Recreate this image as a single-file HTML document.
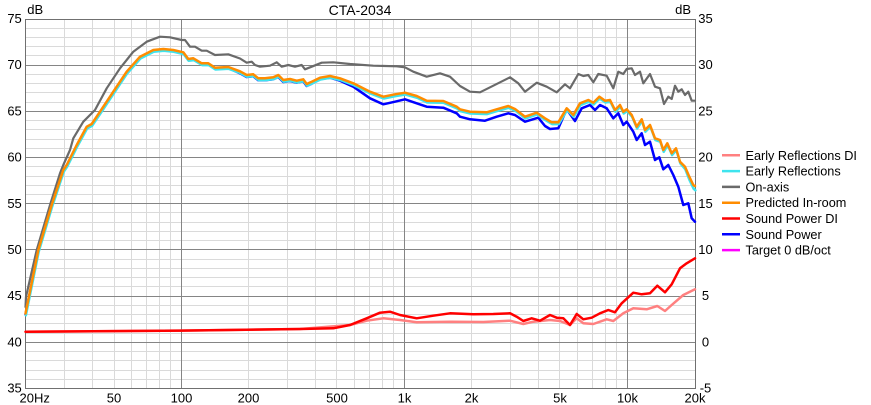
<!DOCTYPE html>
<html><head><meta charset="utf-8"><style>
html,body{margin:0;padding:0;background:#fff;}
svg{display:block;font-family:"Liberation Sans",Arial,sans-serif;}
</style></head><body>
<svg width="871" height="405" viewBox="0 0 871 405" xmlns="http://www.w3.org/2000/svg">
<rect x="0" y="0" width="871" height="405" fill="#fff"/>
<!-- minor horizontal grid -->
<g stroke="#dadada" stroke-width="1" fill="none">
<path d="M25 28.5H695M25 37.5H695M25 46.5H695M25 55.5H695M25 74.5H695M25 83.5H695M25 92.5H695M25 102.5H695M25 120.5H695M25 129.5H695M25 139.5H695M25 148.5H695M25 166.5H695M25 176.5H695M25 185.5H695M25 194.5H695M25 212.5H695M25 222.5H695M25 231.5H695M25 240.5H695M25 259.5H695M25 268.5H695M25 277.5H695M25 286.5H695M25 305.5H695M25 314.5H695M25 323.5H695M25 333.5H695M25 351.5H695M25 360.5H695M25 370.5H695M25 379.5H695"/>
<path d="M64.5 19V388M92.5 19V388M114.5 19V388M131.5 19V388M146.5 19V388M159.5 19V388M170.5 19V388M248.5 19V388M287.5 19V388M315.5 19V388M336.5 19V388M354.5 19V388M369.5 19V388M382.5 19V388M393.5 19V388M471.5 19V388M510.5 19V388M538.5 19V388M559.5 19V388M577.5 19V388M592.5 19V388M605.5 19V388M616.5 19V388"/>
</g>
<!-- major grid -->
<g stroke="#858585" stroke-width="1" fill="none">
<path d="M25 65.5H695M25 111.5H695M25 157.5H695M25 203.5H695M25 249.5H695M25 296.5H695M25 342.5H695"/>
<path d="M181.5 19V388M404.5 19V388M627.5 19V388"/>
</g>
<rect x="25.5" y="19.5" width="670" height="369" fill="none" stroke="#707070" stroke-width="1"/>

<!-- curves -->
<g fill="none" stroke-linejoin="round" stroke-linecap="round">
<!-- Early Reflections DI -->
<polyline stroke="#ff8080" stroke-width="2.5" points="25.5,331.7 181,330.6 300,329 350,325 366.7,320.7 383.3,318.3 400,320 416.7,322.3 450,321.7 483.3,322 510,320.7 523.3,324 533.3,321.7 550,320 560,321 570,325 576.7,318.3 583.3,323.3 593.3,324 606.7,319.3 613.3,321 623.3,313.3 633.3,308.3 646.7,309.3 657.3,306 665,311 671.7,305 683.3,295 695,289.3"/>
<!-- Sound Power DI -->
<polyline stroke="#ff0000" stroke-width="2.5" points="25.5,331.7 181,330.6 300,329 333.3,328.3 350,325 366.7,318.3 380,312.7 390,311.7 400,315 416.7,318.3 433.3,315.7 450,313.3 473.3,314.3 493.3,314 510,313.3 516.7,316.7 523.3,321 531.7,318.3 540,320.7 550,315 556.7,317.7 563.3,318.3 570,325 576.7,314 583.3,319.3 591.7,317.7 600,313.3 608.3,310 615,312.3 621.7,303.3 633.3,292.7 641.7,294.3 650,293.3 657.3,285.7 665,292.3 671.7,284.3 680,268.3 686.7,263.3 695,258.3"/>
<!-- Sound Power -->
<polyline stroke="#0000ff" stroke-width="2.5" points="25.5,314.5 38.3,251 51.7,206 63.3,171 66.7,166 76.7,146 86.7,127.7 91.7,125 100,112.7 113.3,92.7 126.7,72.7 140,57.7 153.3,51 163.3,50 173.3,51 183.3,53.3 188.3,60 193.3,59.3 201.7,64.3 208.3,64.3 215,68.7 228.3,68 240,73.3 246.7,77 253.3,76.3 258.3,80.3 265,80.3 273.3,79.3 278.3,77 283.3,82 290,81 296.7,82.7 303.3,81.3 306.7,86 311.7,83.7 320,79 330,77.7 340,80.7 353.3,86.7 370,98.3 383.3,104.3 395,101.7 405,99.3 416.7,103.3 426.7,106.7 443.3,107.7 456.7,113.3 460,116.7 470,119.3 485,120.7 496.7,116.7 508.3,113.3 515,115 525,121.7 538.3,117.7 545,126 550,129 558.3,128.3 566.7,109.3 575,121 581.7,108.3 590,105 595,110 600,105 606.7,108.3 613.3,118.3 618.3,113.3 623.3,125 626.7,121.7 633.3,131.7 636.7,140 641.7,133.3 645,145 650,141.7 655,160 659.3,157.3 663.3,169.3 668.3,165 673.3,175 678.3,186.7 683.3,205 688.3,203.3 691.7,218.3 695,221.7"/>
<!-- Early Reflections -->
<polyline transform="translate(0.4,1.8)" stroke="#3ee4ee" stroke-width="2.5" points="25.5,313.5 38.3,250 51.7,205 63.3,170 66.7,165 76.7,145 86.7,126.7 91.7,124 100,111.7 113.3,91.7 126.7,71.7 140,56.7 153.3,50 163.3,49 173.3,50 183.3,52.3 188.3,59 193.3,58.3 201.7,63.3 208.3,63.3 215,67.7 228.3,67 240,71.3 246.7,75 253.3,74.3 258.3,78.3 265,78.3 273.3,77.3 278.3,75 283.3,80 290,79 296.7,80.7 303.3,79.3 306.7,84 311.7,81.7 320,77.7 330,76 340,78.3 353.3,83.3 370,91.7 383.3,96.7 395,94.3 405,92.7 416.7,96 426.7,100.7 443.3,101 456.7,106.7 460,109.3 470,111.7 486.7,112.3 496.7,109.3 508.3,106 515,109 525,116.7 536.7,112.7 545,118.3 551.7,122.3 558.3,122.3 566.7,108.3 573.3,115 580,103.3 588.3,100 593.3,102.7 599.3,96.7 605,100.7 610,100 615,110 620,105 623.3,111.7 626.7,109.3 631.7,115 636.7,126.7 641.7,119.3 645,130 650,125 655,138.3 660,140 663.3,150 667.3,143.3 671.7,153.3 676,148.3 680,161.7 685,167.7 689.3,178.7 693.3,187 695,188.5"/>
<!-- On-axis -->
<polyline stroke="#6a6a6a" stroke-width="2.2" points="25.5,307 26,296.7 36.7,250 50,205 60,173.3 63.3,165 70,150 73.3,138.3 83.3,121.7 90,115 95,110 106.7,88.3 120,68.3 133.3,51.7 146.7,41.7 160,36.7 170,37.3 181.7,40 185,40 190,46.7 195,46.7 201.7,50.7 206.7,50.7 215,55 228.3,54.3 240,58.5 246.7,62.7 251.7,61.7 255,65 260,66.7 270,65.7 276.7,62.3 281.7,66.7 288.3,65 295,66.7 301.7,65 305,69.3 311.7,66.7 321.7,62.7 333.3,62.3 350,64 373.3,65.7 396.7,66.3 405,67.3 413.3,71.7 426.7,76.7 440,73.3 450,76.7 460,86 470,91.7 480,92.3 493.3,85.7 510,77.3 518.3,83.3 525,91.7 536.7,82.7 546.7,86.7 556.7,92.3 565,84.3 570,88.3 578.3,74 583.3,76 588.3,75 593.3,82.3 598.3,74 606.7,75.7 613.3,88.3 618.3,71.7 623.3,74 626.7,69 631.7,68.3 635,75 640,71.7 643.3,83.3 650,74 655,86.7 660,88.3 664,104 668.3,96.7 671.7,99 675,85.7 678.3,91.7 681.7,89.3 685,95 688.3,91.7 691.7,100.7 695,100.7"/>
<!-- Predicted In-room -->
<polyline stroke="#ff8c00" stroke-width="2.5" points="25.5,313.5 38.3,250 51.7,205 63.3,170 66.7,165 76.7,145 86.7,126.7 91.7,124 100,111.7 113.3,91.7 126.7,71.7 140,56.7 153.3,50 163.3,49 173.3,50 183.3,52.3 188.3,59 193.3,58.3 201.7,63.3 208.3,63.3 215,67.7 228.3,67 240,71.3 246.7,75 253.3,74.3 258.3,78.3 265,78.3 273.3,77.3 278.3,75 283.3,80 290,79 296.7,80.7 303.3,79.3 306.7,84 311.7,81.7 320,77.7 330,76 340,78.3 353.3,83.3 370,91.7 383.3,96.7 395,94.3 405,92.7 416.7,96 426.7,100.7 443.3,101 456.7,106.7 460,109.3 470,111.7 486.7,112.3 496.7,109.3 508.3,106 515,109 525,116.7 536.7,112.7 545,118.3 551.7,122.3 558.3,122.3 566.7,108.3 573.3,115 580,103.3 588.3,100 593.3,102.7 599.3,96.7 605,100.7 610,100 615,110 620,105 623.3,111.7 626.7,109.3 631.7,115 636.7,126.7 641.7,119.3 645,130 650,125 655,138.3 660,140 663.3,150 667.3,143.3 671.7,153.3 676,148.3 680,161.7 685,166.7 689.3,176.7 693.3,185 695,186"/>
</g>

<!-- text -->
<g fill="#000" font-size="13">
<text x="430" y="15" font-size="14" text-anchor="middle" dx="-70">CTA-2034</text>
<text x="27.3" y="14">dB</text>
<text x="691" y="14" text-anchor="end">dB</text>
<g text-anchor="end">
<text x="21.8" y="23">75</text>
<text x="21.8" y="69.2">70</text>
<text x="21.8" y="115.4">65</text>
<text x="21.8" y="161.6">60</text>
<text x="21.8" y="207.8">55</text>
<text x="21.8" y="254">50</text>
<text x="21.8" y="300.1">45</text>
<text x="21.8" y="346.3">40</text>
<text x="21.8" y="392.5">35</text>
</g>
<g text-anchor="middle">
<text x="705.5" y="23">35</text>
<text x="705.5" y="69.2">30</text>
<text x="705.5" y="115.4">25</text>
<text x="705.5" y="161.6">20</text>
<text x="705.5" y="207.8">15</text>
<text x="705.5" y="254">10</text>
<text x="705.5" y="300.1">5</text>
<text x="705.5" y="346.3">0</text>
<text x="705.5" y="392.5">-5</text>
</g>
<text x="19.5" y="402.5">20Hz</text>
<g text-anchor="middle">
<text x="114" y="402.5">50</text>
<text x="181.5" y="402.5">100</text>
<text x="248.5" y="402.5">200</text>
<text x="337" y="402.5">500</text>
<text x="404.5" y="402.5">1k</text>
<text x="471.5" y="402.5">2k</text>
<text x="560" y="402.5">5k</text>
<text x="627.5" y="402.5">10k</text>
<text x="695" y="402.5">20k</text>
</g>
</g>

<!-- legend -->
<g stroke-width="2.5" fill="none">
<path d="M722 155.3H740" stroke="#ff8080"/>
<path d="M722 171.1H740" stroke="#3ee4ee"/>
<path d="M722 186.9H740" stroke="#6a6a6a"/>
<path d="M722 202.7H740" stroke="#ff8c00"/>
<path d="M722 218.5H740" stroke="#ff0000"/>
<path d="M722 234.3H740" stroke="#0000ff"/>
<path d="M722 250.1H740" stroke="#ff00ff"/>
</g>
<g fill="#000" font-size="12.7">
<text x="745.5" y="159.8">Early Reflections DI</text>
<text x="745.5" y="175.6">Early Reflections</text>
<text x="745.5" y="191.4">On-axis</text>
<text x="745.5" y="207.2">Predicted In-room</text>
<text x="745.5" y="223">Sound Power DI</text>
<text x="745.5" y="238.8">Sound Power</text>
<text x="745.5" y="254.6">Target 0 dB/oct</text>
</g>
</svg>
</body></html>
